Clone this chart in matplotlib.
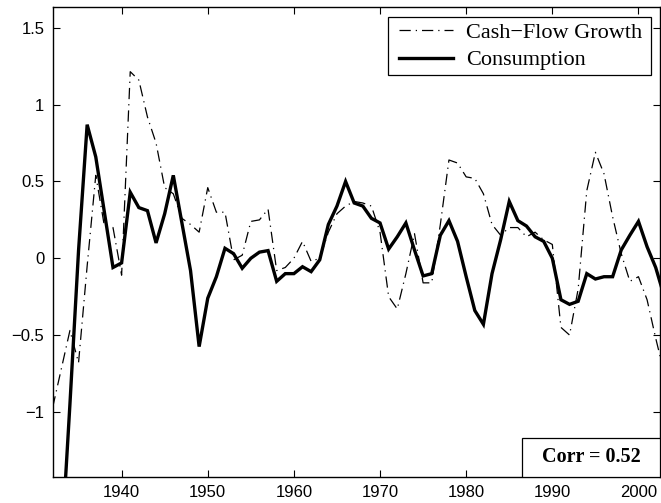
import numpy as np
import matplotlib
matplotlib.use('Agg')
import matplotlib.pyplot as plt
from matplotlib.patches import Rectangle

years = np.arange(1932, 2004)

cash_flow = [-0.97, -0.72, -0.47, -0.68, -0.05, 0.54, 0.21, 0.20, -0.11, 1.215,
             1.16, 0.92, 0.75, 0.46, 0.42, 0.26, 0.22, 0.17, 0.46, 0.30,
             0.30, -0.01, 0.02, 0.24, 0.25, 0.32, -0.08, -0.06, 0.0, 0.11,
             -0.02, 0.0, 0.17, 0.29, 0.34, 0.37, 0.36, 0.34, 0.17, -0.25,
             -0.33, -0.10, 0.16, -0.16, -0.16, 0.22, 0.64, 0.62, 0.53, 0.52,
             0.42, 0.22, 0.15, 0.20, 0.20, 0.14, 0.17, 0.12, 0.09, -0.45,
             -0.50, -0.20, 0.44, 0.69, 0.55, 0.27, 0.03, -0.15, -0.12, -0.27,
             -0.52, -0.75]

consumption = [-2.40, -1.90, -0.95, 0.05, 0.87, 0.66, 0.30, -0.06, -0.03, 0.43,
               0.33, 0.31, 0.10, 0.29, 0.54, 0.23, -0.08, -0.575, -0.26, -0.12,
               0.065, 0.03, -0.065, 0.0, 0.04, 0.05, -0.15, -0.10, -0.10, -0.055,
               -0.087, -0.01, 0.22, 0.34, 0.50, 0.36, 0.34, 0.26, 0.23, 0.06,
               0.14, 0.23, 0.054, -0.115, -0.10, 0.15, 0.245, 0.11, -0.12, -0.34,
               -0.43, -0.10, 0.12, 0.37, 0.245, 0.21, 0.14, 0.11, 0.0, -0.27,
               -0.30, -0.28, -0.10, -0.135, -0.12, -0.12, 0.054, 0.15, 0.24, 0.075,
               -0.06, -0.25]

xticks = [1940, 1950, 1960, 1970, 1980, 1990, 2000]
yticks = [-1, -0.5, 0, 0.5, 1, 1.5]
ytick_labels = ['\u22121', '\u22120.5', '0', '0.5', '1', '1.5']

plt.rcParams['font.family'] = ['Liberation Sans', 'DejaVu Sans']

fig = plt.figure(figsize=(6.61, 5.03), dpi=100)
ax = fig.add_axes([52.7 / 661, 1 - 477 / 503, (660 - 52.7) / 661, (477 - 7) / 503])

ax.plot(years, cash_flow, color='black', lw=0.9, dashes=(9, 4, 1, 4),
        label='Cash\u2212Flow Growth')
ax.plot(years, consumption, color='black', lw=2.4, label='Consumption',
        solid_joinstyle='miter')

ax.set_xlim(1932, 2002.5)
ax.set_ylim(-1.424, 1.636)
ax.set_xticks(xticks)
ax.set_yticks(yticks)
ax.set_yticklabels(ytick_labels)
ax.tick_params(direction='in', length=5, width=0.8, top=True, right=True,
               labelsize=12, pad=6)
for s in ax.spines.values():
    s.set_linewidth(1.0)

# legend frame drawn by hand so the padding can be wider at the sides
ax.add_patch(Rectangle((0.5526, 0.855), 0.4321, 0.123, transform=ax.transAxes,
                       facecolor='white', edgecolor='black', lw=0.9, zorder=4))
leg = ax.legend(loc='upper left', bbox_to_anchor=(0.5702, 0.968),
                borderaxespad=0, frameon=False, handlelength=2.45,
                handletextpad=0.55, borderpad=0, labelspacing=0.33,
                prop={'family': 'Liberation Serif', 'size': 16})
leg.set_zorder(5)

ax.add_patch(Rectangle((0.773, 0.0), 0.227, 0.0836, transform=ax.transAxes,
                       facecolor='white', edgecolor='black', lw=0.9, zorder=5))
ax.text(0.8865, 0.042, 'Corr = 0.52', transform=ax.transAxes, ha='center',
        va='center', fontsize=14.5, fontweight='bold',
        family='Liberation Serif', zorder=6)

fig.savefig('out.png', dpi=100)
